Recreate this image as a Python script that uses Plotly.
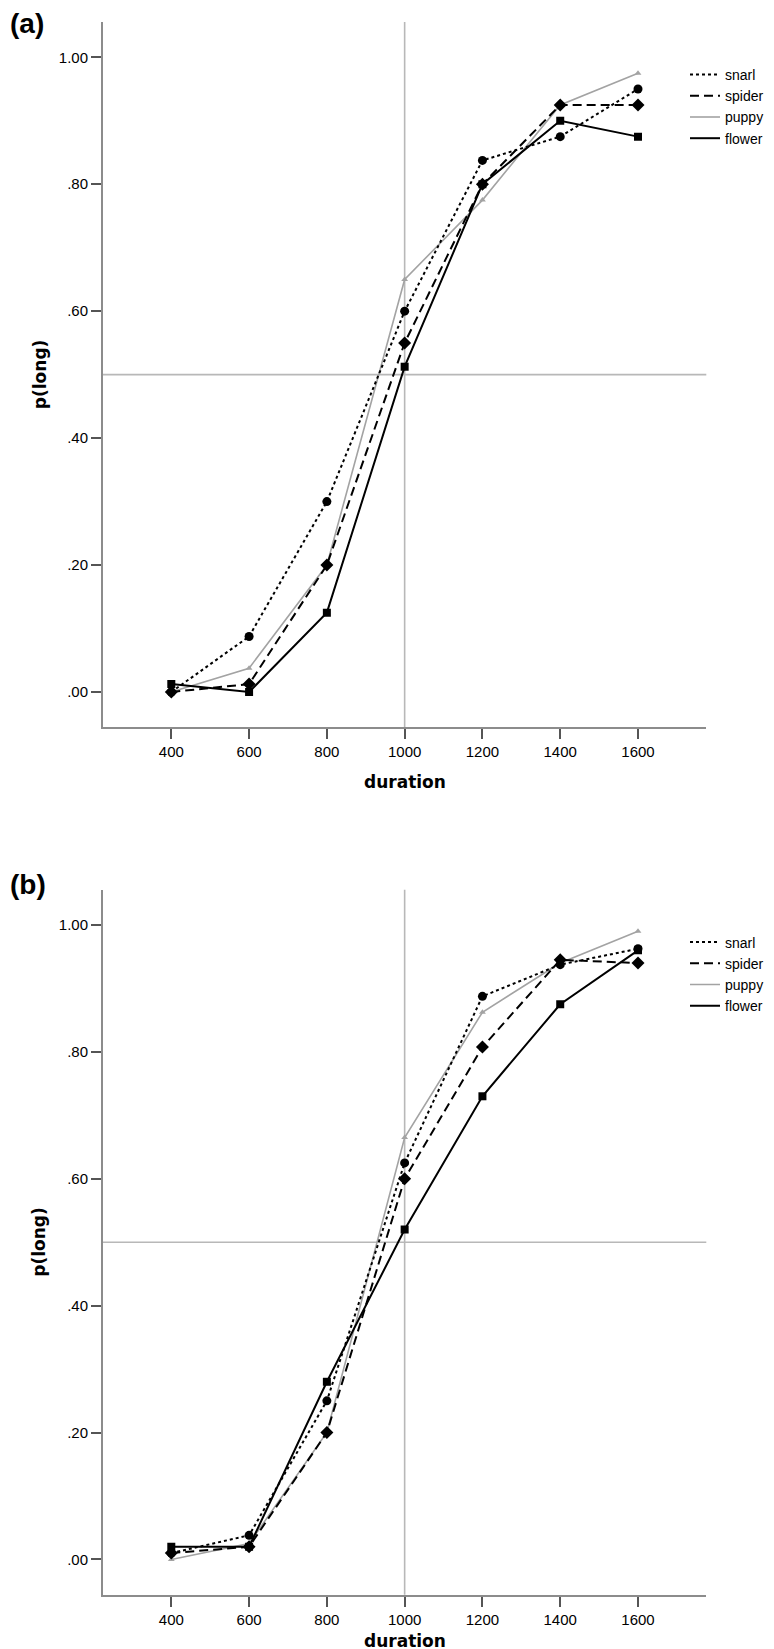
import plotly.graph_objects as go
from plotly.subplots import make_subplots

durations = [400, 600, 800, 1000, 1200, 1400, 1600]

a_snarl = [0.0, 0.0875, 0.30, 0.60, 0.8375, 0.875, 0.95]
a_spider = [0.0, 0.0125, 0.20, 0.55, 0.80, 0.925, 0.925]
a_puppy = [0.0, 0.0375, 0.20, 0.65, 0.775, 0.925, 0.975]
a_flower = [0.0125, 0.0, 0.125, 0.5125, 0.80, 0.90, 0.875]

b_snarl = [0.01, 0.038, 0.25, 0.625, 0.8875, 0.9375, 0.9625]
b_spider = [0.01, 0.02, 0.20, 0.60, 0.8075, 0.945, 0.94]
b_puppy = [0.0, 0.025, 0.20, 0.665, 0.8625, 0.94, 0.99]
b_flower = [0.02, 0.02, 0.28, 0.52, 0.73, 0.875, 0.96]

series_names = ["snarl", "spider", "puppy", "flower"]
y_tickvals = [0.0, 0.2, 0.4, 0.6, 0.8, 1.0]
y_ticktext = [".00", ".20", ".40", ".60", ".80", "1.00"]
x_tickvals = [400, 600, 800, 1000, 1200, 1400, 1600]
panel_labels = ["(a)", "(b)"]

W, H = 774, 1649
def py(px):
    return 1 - px / H

GRAY = "#a3a3a3"
styles = {
    "snarl": dict(line=dict(color="black", width=2, dash="3px,3px"),
                  marker=dict(symbol="circle", size=9, color="black")),
    "spider": dict(line=dict(color="black", width=2, dash="9px,5px"),
                   marker=dict(symbol="diamond", size=10, color="black")),
    "puppy": dict(line=dict(color=GRAY, width=1.6),
                  marker=dict(symbol="triangle-up", size=6, color=GRAY)),
    "flower": dict(line=dict(color="black", width=2),
                   marker=dict(symbol="square", size=8, color="black")),
}

fig = make_subplots(rows=2, cols=1)

panels = [
    {"snarl": a_snarl, "spider": a_spider, "puppy": a_puppy, "flower": a_flower},
    {"snarl": b_snarl, "spider": b_spider, "puppy": b_puppy, "flower": b_flower},
]
legend_ids = ["legend", "legend2"]
draw_order = ["puppy", "snarl", "spider", "flower"]

for i, data in enumerate(panels):
    row = i + 1
    for name in draw_order:
        st = styles[name]
        fig.add_trace(go.Scatter(x=durations, y=data[name], mode="lines+markers",
                                 line=st["line"], marker=st["marker"],
                                 showlegend=False, name=name), row=row, col=1)
    for name in series_names:
        st = styles[name]
        fig.add_trace(go.Scatter(x=[None], y=[None], mode="lines", line=st["line"],
                                 name=name, showlegend=True, legend=legend_ids[i]),
                      row=row, col=1)

# geometry (pixels in full image)
panel_top = [14, 881.7]
panel_bot = [719.3, 1586.7]
title_bottom = [785, 1644]
x_left, x_right = 95, 698.3
xr = [224.4, 1775.6]
yr = [-0.0556, 1.0556]

axis_common = dict(showgrid=False, zeroline=False, showline=True, linecolor="#8c8c8c",
                   linewidth=2, ticks="outside", ticklen=10, tickwidth=2, tickcolor="#555555",
                   tickfont=dict(family="Liberation Sans", size=15, color="black"))

for i in range(2):
    xa = "xaxis" if i == 0 else "xaxis2"
    ya = "yaxis" if i == 0 else "yaxis2"
    fig.layout[xa].update(domain=[x_left / W, x_right / W], range=xr,
                          tickvals=x_tickvals, ticktext=[str(v) for v in x_tickvals],
                          **axis_common)
    fig.layout[ya].update(domain=[py(panel_bot[i]), py(panel_top[i])], range=yr,
                          tickvals=y_tickvals, ticktext=y_ticktext, **axis_common)
    xref = "x" if i == 0 else "x2"
    yref = "y" if i == 0 else "y2"
    fig.add_shape(type="line", xref=xref, yref=yref + " domain", x0=1000, x1=1000, y0=0, y1=1,
                  line=dict(color="#b8b8b8", width=1.6), layer="below")
    fig.add_shape(type="line", xref=xref + " domain", yref=yref, x0=0, x1=1, y0=0.5, y1=0.5,
                  line=dict(color="#b8b8b8", width=1.6), layer="below")
    # axis titles
    fig.add_annotation(text="<b>duration</b>", xref=xref, x=1000, yref="paper",
                       y=py(title_bottom[i]), showarrow=False, xanchor="center",
                       yanchor="bottom", borderpad=0,
                       font=dict(family="DejaVu Sans", size=17, color="black"))
    fig.add_annotation(text="<b>p(long)</b>", xref="paper", x=31.5 / W, yref="paper",
                       y=py((panel_top[i] + panel_bot[i]) / 2), textangle=-90, showarrow=False,
                       xanchor="center", yanchor="middle",
                       font=dict(family="DejaVu Sans", size=17, color="black"))
    fig.add_annotation(text="<b>" + panel_labels[i] + "</b>", xref="paper", x=0, yref="paper",
                       y=py(16 if i == 0 else 876), showarrow=False,
                       xanchor="left", yanchor="middle",
                       font=dict(family="Liberation Sans", size=28, color="black"))

legend_common = dict(xanchor="left", yanchor="top", bgcolor="rgba(0,0,0,0)",
                     font=dict(family="Liberation Sans", size=14, color="black"),
                     itemwidth=30, tracegroupgap=0, traceorder="normal")
fig.update_layout(
    width=W, height=H, margin=dict(l=0, r=0, t=0, b=0),
    paper_bgcolor="white", plot_bgcolor="white",
    legend=dict(x=677 / W, y=py(51), **legend_common),
    legend2=dict(x=677 / W, y=py(51 + 867.5), **legend_common),
)

fig.write_html("out.html")
